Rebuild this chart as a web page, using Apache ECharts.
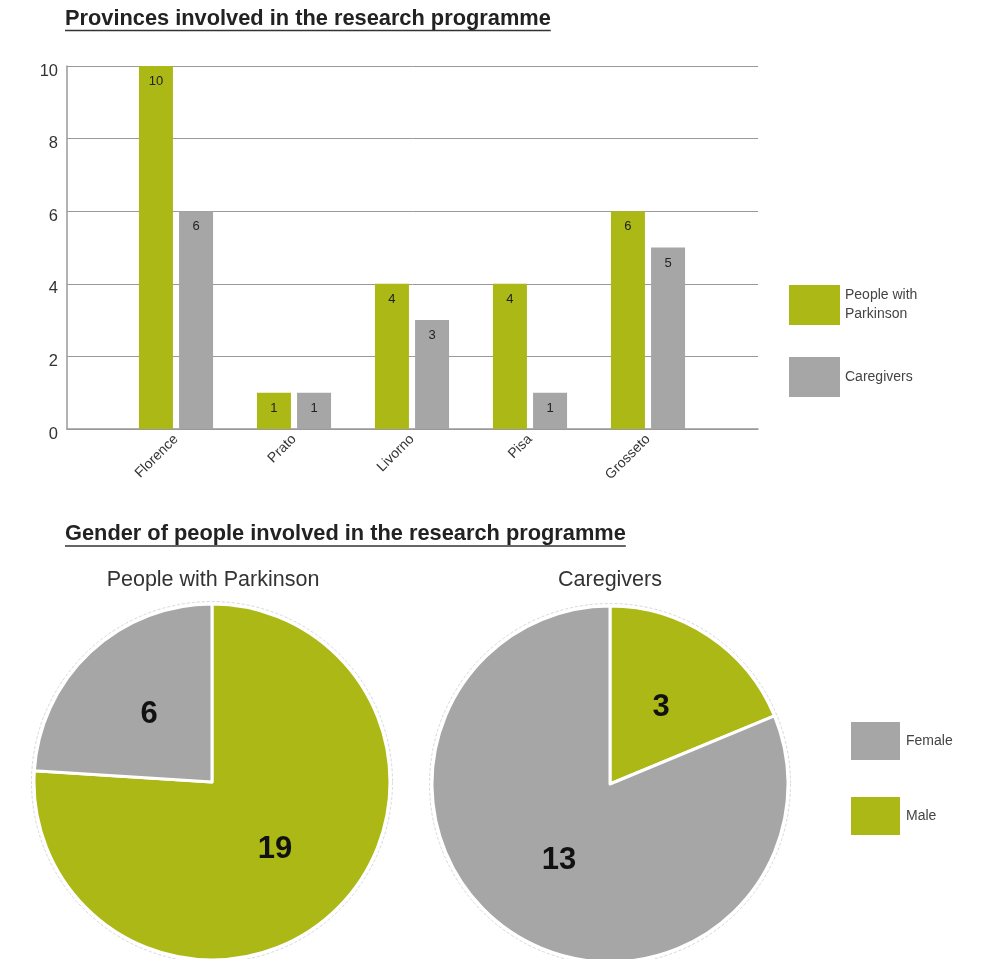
<!DOCTYPE html>
<html>
<head>
<meta charset="utf-8">
<script src="https://cdn.jsdelivr.net/npm/echarts@6/dist/echarts.min.js"></script>
<style>
html,body{margin:0;padding:0;background:#fff;}
#chart{width:991px;height:959px;}
</style>
</head>
<body>
<div id="chart"></div>
<script>
// ---- data ----
const categories = ['Florence', 'Prato', 'Livorno', 'Pisa', 'Grosseto'];
const parkinsonByProvince = [10, 1, 4, 4, 6];
const caregiversByProvince = [6, 1, 3, 1, 5];
const barSeriesNames = ['People with Parkinson', 'Caregivers'];
const genderNames = ['Male', 'Female'];
const parkinsonGender = [19, 6];
const caregiverGender = [3, 13];
const pieTitles = ['People with Parkinson', 'Caregivers'];
const titles = ['Provinces involved in the research programme', 'Gender of people involved in the research programme'];

const GREEN = '#abb816';
const GRAY = '#a6a6a6';
const FONT = '"Liberation Sans", Arial, Helvetica, sans-serif';
const genderColors = { Male: GREEN, Female: GRAY };

function textWidth(txt, size, weight) {
  const c = document.createElement('canvas').getContext('2d');
  c.font = (weight || 'normal') + ' ' + size + 'px ' + FONT;
  return c.measureText(txt).width;
}

const TITLE_SIZE = 21.8;
const TITLE_WEIGHT = 'bold';
const t1w = textWidth(titles[0], TITLE_SIZE, TITLE_WEIGHT);
const t2w = textWidth(titles[1], TITLE_SIZE, TITLE_WEIGHT);

const PIE_R = 178;
const pieCenters = [[212, 782], [610, 784]];

const chart = echarts.init(document.getElementById('chart'), null, { renderer: 'canvas' });

const titleStyle = { fontSize: TITLE_SIZE, fontWeight: TITLE_WEIGHT, color: '#222', fontFamily: FONT };

const option = {
  backgroundColor: '#fff',
  animation: false,
  textStyle: { fontFamily: FONT },
  title: [
    { text: titles[0], left: 65, top: 8, padding: 0, textStyle: titleStyle },
    { text: titles[1], left: 65, top: 523, padding: 0, textStyle: titleStyle },
    { text: pieTitles[0], left: 213, textAlign: 'center', top: 569, padding: 0, textStyle: { fontSize: 21.5, fontWeight: 'normal', color: '#333', fontFamily: FONT } },
    { text: pieTitles[1], left: 610, textAlign: 'center', top: 569, padding: 0, textStyle: { fontSize: 21.5, fontWeight: 'normal', color: '#333', fontFamily: FONT } }
  ],
  graphic: [
    { type: 'line', shape: { x1: 65, y1: 30.5, x2: 65 + t1w, y2: 30.5 }, style: { stroke: '#333', lineWidth: 1.5 } },
    { type: 'line', shape: { x1: 65, y1: 546, x2: 65 + t2w, y2: 546 }, style: { stroke: '#333', lineWidth: 1.5 } },
    { type: 'circle', silent: true, z: -1, shape: { cx: pieCenters[0][0], cy: pieCenters[0][1], r: PIE_R + 2.5 }, style: { fill: 'none', stroke: '#d8d8d8', lineWidth: 1, lineDash: [3, 2] } },
    { type: 'circle', silent: true, z: -1, shape: { cx: pieCenters[1][0], cy: pieCenters[1][1], r: PIE_R + 2.5 }, style: { fill: 'none', stroke: '#d8d8d8', lineWidth: 1, lineDash: [3, 2] } }
  ],
  legend: [
    {
      data: barSeriesNames,
      orient: 'vertical', left: 789, top: 285, padding: 0,
      itemWidth: 51, itemHeight: 40, itemGap: 32,
      icon: 'rect', selectedMode: false,
      formatter: n => n === 'People with Parkinson' ? 'People with\nParkinson' : n,
      textStyle: { fontSize: 14, color: '#444', lineHeight: 19, fontFamily: FONT }
    },
    {
      data: ['Female', 'Male'],
      orient: 'vertical', left: 849, top: 720, padding: 0,
      itemWidth: 51, itemHeight: 40, itemGap: 33,
      icon: 'rect', selectedMode: false,
      textStyle: { fontSize: 14, color: '#444', fontFamily: FONT }
    }
  ],
  grid: [
    { left: 67, top: 66, width: 691, height: 363 },
    { left: 117, top: 66, width: 590, height: 363 }
  ],
  xAxis: [
    {
      gridIndex: 0, type: 'value', min: 0, max: 1,
      axisLine: { show: true, lineStyle: { color: '#999', width: 1.5 } },
      axisTick: { show: false }, axisLabel: { show: false }, splitLine: { show: false }
    },
    {
      gridIndex: 1, type: 'category', data: categories,
      axisLine: { show: false }, axisTick: { show: false },
      axisLabel: { rotate: 45, fontSize: 14, color: '#333', margin: 8, fontFamily: FONT }
    }
  ],
  yAxis: [
    {
      gridIndex: 0, type: 'value', min: 0, max: 10, interval: 2,
      axisLine: { show: true, lineStyle: { color: '#999', width: 1.5 } },
      axisTick: { show: false },
      axisLabel: { fontSize: 16.5, color: '#333', margin: 9, verticalAlign: 'top', lineHeight: 10, fontFamily: FONT },
      splitLine: { show: true, lineStyle: { color: '#999', width: 1 } }
    },
    {
      gridIndex: 1, type: 'value', min: 0, max: 10, interval: 2, show: false
    }
  ],
  series: [
    {
      name: barSeriesNames[0], type: 'bar', xAxisIndex: 1, yAxisIndex: 1,
      data: parkinsonByProvince, barWidth: 34, barGap: '18%',
      itemStyle: { color: GREEN },
      label: { show: true, position: 'insideTop', distance: 9, fontSize: 13, color: '#222', fontFamily: FONT }
    },
    {
      name: barSeriesNames[1], type: 'bar', xAxisIndex: 1, yAxisIndex: 1,
      data: caregiversByProvince, barWidth: 34, barGap: '18%',
      itemStyle: { color: GRAY },
      label: { show: true, position: 'insideTop', distance: 9, fontSize: 13, color: '#222', fontFamily: FONT }
    },
    {
      name: 'Gender: ' + pieTitles[0], type: 'pie',
      center: pieCenters[0], radius: [0, PIE_R], startAngle: 90, clockwise: true,
      silent: true,
      data: genderNames.map((n, i) => ({ name: n, value: parkinsonGender[i], itemStyle: { color: genderColors[n] } })),
      itemStyle: { borderColor: '#fff', borderWidth: 3 },
      label: { show: true, position: 'inside', formatter: '{c}', fontSize: 31, fontWeight: 'bold', color: '#111', fontFamily: FONT },
      labelLine: { show: false }
    },
    {
      name: 'Gender: ' + pieTitles[1], type: 'pie',
      center: pieCenters[1], radius: [0, PIE_R], startAngle: 90, clockwise: true,
      silent: true,
      data: genderNames.map((n, i) => ({ name: n, value: caregiverGender[i], itemStyle: { color: genderColors[n] } })),
      itemStyle: { borderColor: '#fff', borderWidth: 3 },
      label: { show: true, position: 'inside', formatter: '{c}', fontSize: 31, fontWeight: 'bold', color: '#111', fontFamily: FONT },
      labelLine: { show: false }
    }
  ]
};
chart.setOption(option);
</script>
</body>
</html>
